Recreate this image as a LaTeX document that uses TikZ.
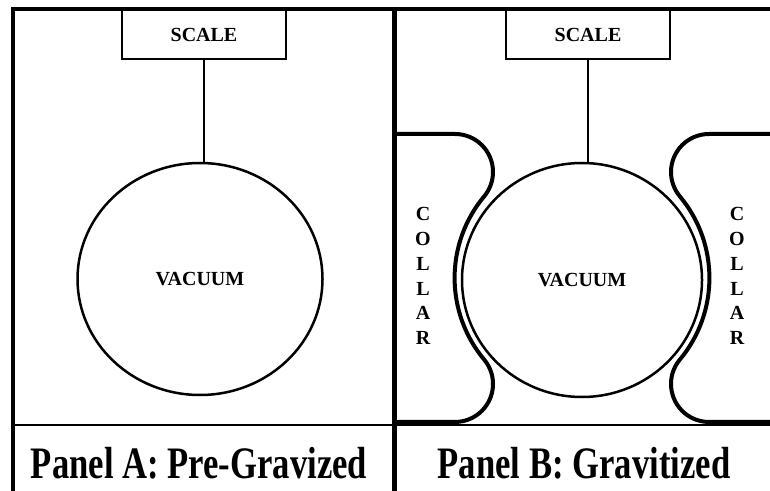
\documentclass[tikz,border=0pt]{standalone}
\usepackage{fontspec}
\usepackage{graphicx}
\setmainfont{Liberation Serif}
\usetikzlibrary{shapes.geometric}
\begin{document}
\begin{tikzpicture}[x=1pt,y=1pt,
  outerframe/.style={line width=4pt},
  paneldivider/.style={line width=5pt},
  thinrule/.style={line width=2pt},
  scalenode/.style={draw, line width=2pt, minimum width=164pt, minimum height=49pt, inner sep=0pt, font=\fontsize{20}{24}\selectfont\bfseries},
  vacuumnode/.style={draw, ellipse, line width=2.5pt, inner sep=0pt, font=\fontsize{20}{24}\selectfont\bfseries},
  hanger/.style={line width=1.5pt},
  collarline/.style={line width=4pt, line join=round},
  collarlabel/.style={align=center, inner sep=0pt, font=\fontsize{20}{24.8}\selectfont\bfseries},
  panelcaption/.style={anchor=base, inner sep=0pt, font=\fontsize{45}{50}\selectfont\bfseries}]
\useasboundingbox (0,0) rectangle (770,490);
\fill[white] (0,0) rectangle (770,490);

% frame lines
\coordinate (tl) at (11,480.5);
\coordinate (tr) at (772,480.5);
\coordinate (bl) at (13,-2);
\coordinate (ltop) at (13,482.5);
\coordinate (dtop) at (394,482.5);
\coordinate (dbot) at (394,-2);
\coordinate (rl) at (13,65);
\coordinate (rr) at (772,65);
\draw[thinrule] (rl) -- (rr);
\draw[outerframe] (tl) -- (tr);
\draw[outerframe] (ltop) -- (bl);
\draw[paneldivider] (dtop) -- (dbot);

% Panel A
\node[scalenode] (scaleA) at (204,455.5) {SCALE};
\node[vacuumnode, minimum width=245pt, minimum height=232pt] (vacA) at (200,211) {VACUUM};
\draw[hanger] (scaleA.south) -- (scaleA.south |- vacA.north);
\node[panelcaption] (capA) at (199,12) {\scalebox{0.77}[1]{Panel A: Pre-Gravized}};

% Panel B
\node[scalenode] (scaleB) at (588,455.5) {SCALE};
\node[vacuumnode, minimum width=240pt, minimum height=234pt] (vacB) at (582,210) {VACUUM};
\draw[hanger] (scaleB.south) -- (scaleB.south |- vacB.north);
\node[panelcaption] (capB) at (584,12) {\scalebox{0.77}[1]{Panel B: Gravitized}};

% left collar
\draw[collarline] (396,356) -- (455,356)
  arc[start angle=90, end angle=-39.85, radius=38pt]
  arc[start angle=140.15, end angle=219.85, radius=127.4pt]
  arc[start angle=39.85, end angle=-90, radius=38pt]
  -- (396,68);
% right collar
\draw[collarline] (775,356) -- (709,356)
  arc[start angle=90, end angle=219.85, radius=38pt]
  arc[start angle=39.85, end angle=-39.85, radius=127.4pt]
  arc[start angle=140.15, end angle=270, radius=38pt]
  -- (775,68);

\node[collarlabel] (collarL) at (423,214) {C\\O\\L\\L\\A\\R};
\node[collarlabel] (collarR) at (737,214) {C\\O\\L\\L\\A\\R};
\end{tikzpicture}
\end{document}
